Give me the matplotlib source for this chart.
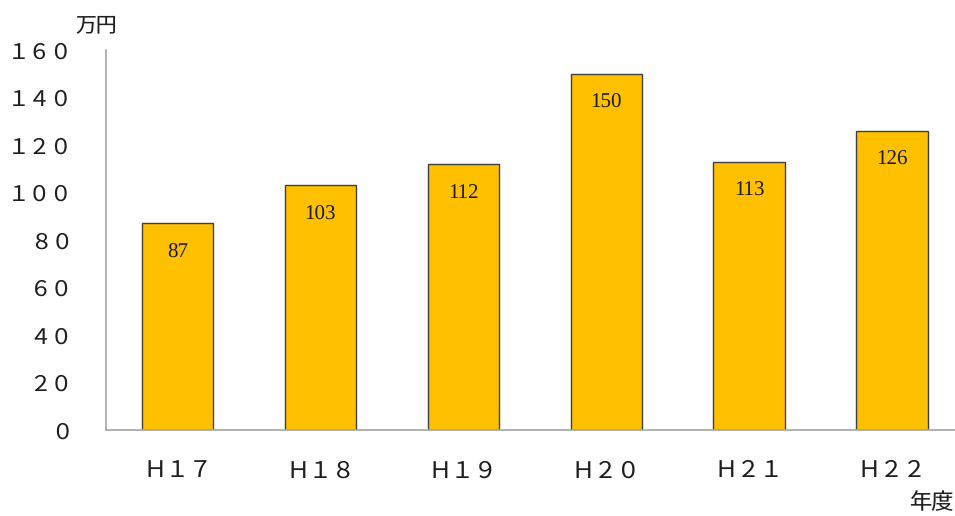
import matplotlib
matplotlib.use("Agg")
import matplotlib.pyplot as plt

plt.rcParams["text.hinting"] = "no_hinting"
plt.rcParams["text.hinting_factor"] = 1

# ---- datos ----
years = ["Ｈ１７", "Ｈ１８", "Ｈ１９", "Ｈ２０", "Ｈ２１", "Ｈ２２"]
values = [87, 103, 112, 150, 113, 126]
yticks = [0, 20, 40, 60, 80, 100, 120, 140, 160]

BAR = "#FFC000"
EDGE = "#3F3F3F"
AXIS = "#A6A6A6"
TXT = "#1f1f1f"
JP = ["Noto Sans CJK JP", "DejaVu Sans"]


def fullwidth(n):
    return "".join(chr(ord(c) + 0xFEE0) for c in str(n))


fig = plt.figure(figsize=(9.55, 5.16), dpi=100)
ax = fig.add_axes([106 / 955, 1 - 430 / 516, 1 - 106 / 955, 380 / 516])

x = range(len(values))
bars = ax.bar(x, values, width=0.5, color=BAR, edgecolor=EDGE, linewidth=1.0)

for b, v in zip(bars, values):
    ax.annotate(str(v), (b.get_x() + b.get_width() / 2, v), xytext=(0, -21),
                textcoords="offset points", ha="center", va="center",
                fontsize=15, color="#1a1a1a", family="Liberation Serif")

ax.set_xlim(-0.5, 5.44)
ax.set_ylim(0, 160)
ax.set_yticks(yticks)
ax.set_yticklabels([fullwidth(t) for t in yticks], family=JP, fontsize=15.5,
                   color=TXT)
ax.set_xticks(list(x))
ax.set_xticklabels(years, family=JP, fontsize=16.5, color=TXT, va="baseline")
ax.tick_params(axis="y", length=0, pad=24)
ax.tick_params(axis="x", length=0, pad=34)

for s in ("top", "right"):
    ax.spines[s].set_visible(False)
for s in ("left", "bottom"):
    ax.spines[s].set_color(AXIS)
    ax.spines[s].set_linewidth(1.2)

fig.text(75 / 955, 1 - 25 / 516, "万円", family=JP, fontsize=15, color=TXT,
         ha="left", va="center")
fig.text(954 / 955, 1 - 503 / 516, "年度", family=JP, fontsize=16, color=TXT,
         ha="right", va="center")

fig.savefig("out.png", dpi=100, facecolor="white")
